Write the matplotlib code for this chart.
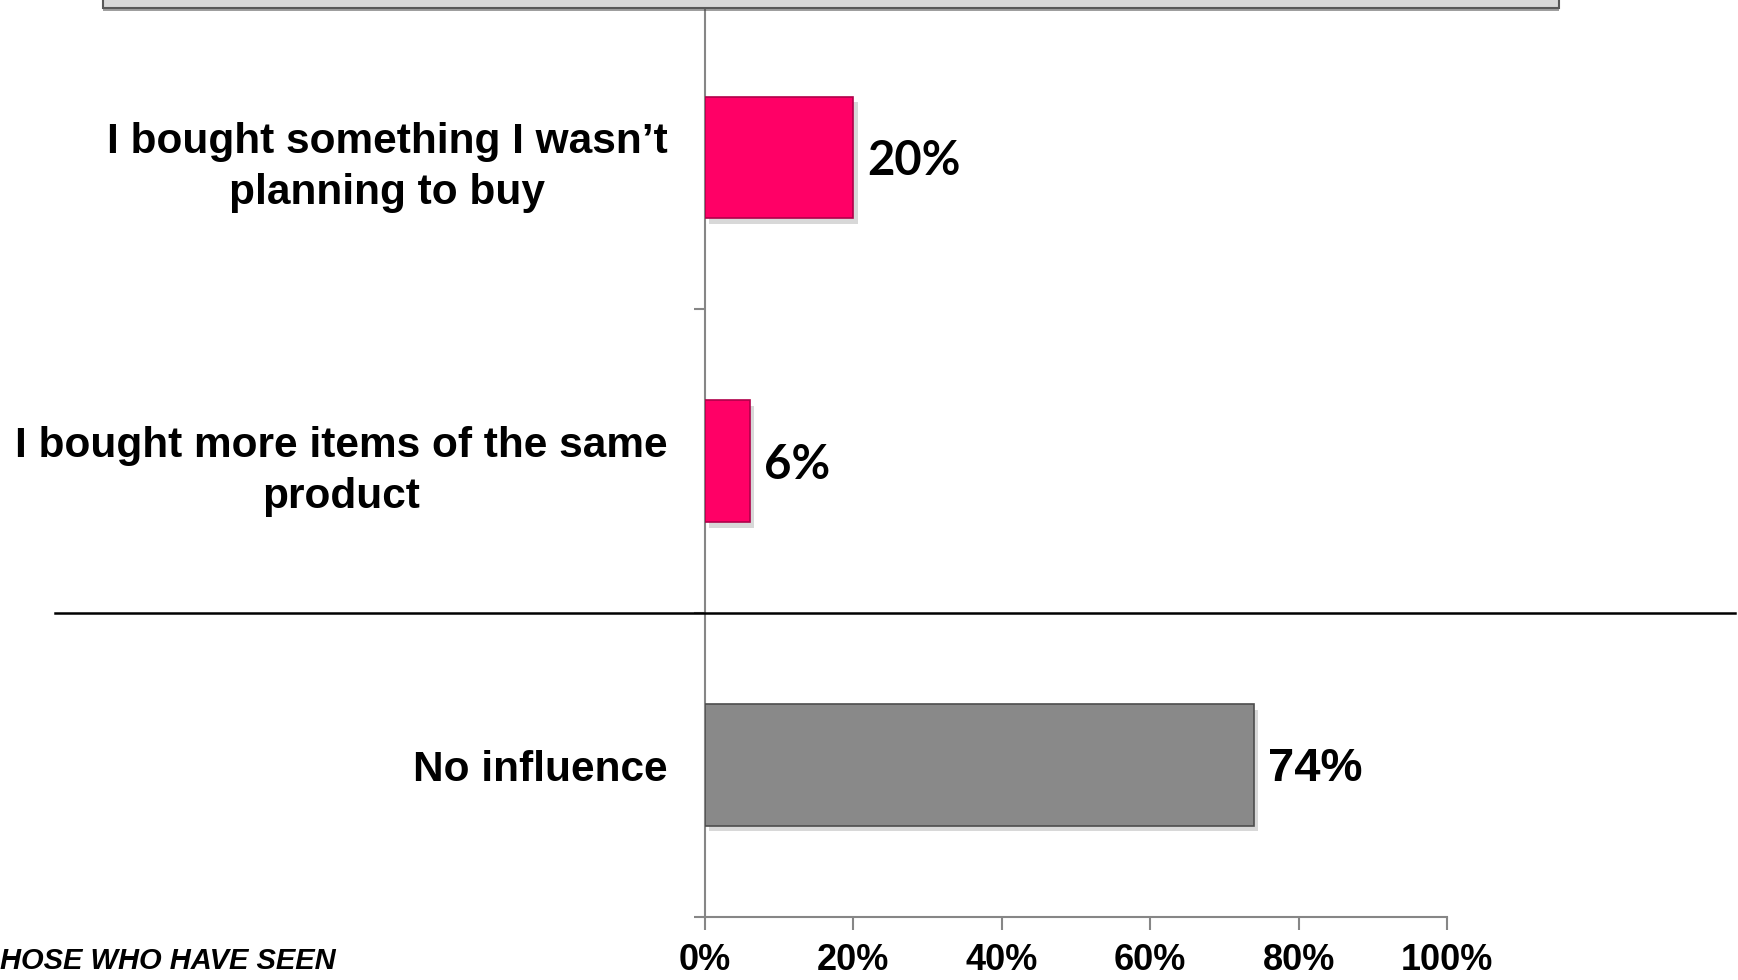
import matplotlib
matplotlib.use("Agg")
import matplotlib.pyplot as plt
import matplotlib.patheffects as pe
from matplotlib import font_manager
from matplotlib.patches import Rectangle
from matplotlib.transforms import blended_transform_factory

# data
categories = [
    "I bought something I wasn\u2019t\nplanning to buy",
    "I bought more items of the same\nproduct",
    "No influence",
]
values = [20, 6, 74]
xticks = [0, 20, 40, 60, 80, 100]
xtick_labels = ["0%", "20%", "40%", "60%", "80%", "100%"]
footer = "HOSE WHO HAVE SEEN"

bar_colors = ["#ff0066", "#ff0066", "#898989"]
bar_edges = ["#b0004a", "#b0004a", "#4d4d4d"]

names = {f.name for f in font_manager.fontManager.ttflist}
narrow = "Liberation Sans Narrow" if "Liberation Sans Narrow" in names else "Liberation Sans"
value_fonts = ["Lato", "Lato", narrow]

W, H = 1738, 980
fig = plt.figure(figsize=(W / 100, H / 100), dpi=100)
ax = fig.add_axes([705 / W, 1 - 917 / H, (1447 - 705) / W, (917 - 5.5) / H])

pos = list(range(len(categories)))
bars = ax.barh(pos, values, height=0.4, color=bar_colors, edgecolor=bar_edges,
               linewidth=1.2, zorder=3)
for b in bars:
    b.set_path_effects([pe.SimplePatchShadow(offset=(3, -4), shadow_rgbFace="#808080",
                                             alpha=0.3), pe.Normal()])

ax.set_xlim(0, 100)
ax.set_ylim(len(categories) - 0.5, -0.5)

for s in ["top", "right"]:
    ax.spines[s].set_visible(False)
for s in ["left", "bottom"]:
    ax.spines[s].set_color("#868686")
    ax.spines[s].set_linewidth(1.5)

ax.set_xticks(xticks, xtick_labels)
ax.tick_params(axis="x", direction="out", length=9, width=1.5, color="#868686", pad=10)
for lbl in ax.get_xticklabels():
    lbl.set_fontfamily(narrow)
    lbl.set_fontweight("bold")
    lbl.set_fontsize(26)

ax.set_yticks(pos, categories)
ax.set_yticks([p - 0.5 for p in pos] + [pos[-1] + 0.5], minor=True)
ax.tick_params(axis="y", which="major", length=0, pad=27)
ax.tick_params(axis="y", which="minor", direction="out", length=8, width=1.5, color="#868686")
for lbl in ax.get_yticklabels():
    lbl.set_fontfamily("Liberation Sans")
    lbl.set_fontweight("bold")
    lbl.set_fontsize(30.5)
    lbl.set_multialignment("center")
    lbl.set_linespacing(1.36)

for p, v, f in zip(pos, values, value_fonts):
    ax.annotate(f"{v}%", xy=(v, p), xytext=(14, -4), textcoords="offset pixels",
                ha="left", va="center", fontsize=34, fontweight="bold", fontfamily=f)

# separator line between the answers and "No influence"
trans = blended_transform_factory(fig.transFigure, ax.transData)
ax.plot([55 / W, 1735 / W], [1.5, 1.5], color="black", lw=1.8, transform=trans,
        clip_on=False, zorder=5)

# box at the top, cut off by the figure edge
box = Rectangle((103 / W, 1 - 8 / H), (1559 - 103) / W, 0.05, transform=fig.transFigure,
                facecolor="#d9d9d9", edgecolor="#595959", linewidth=1.5, zorder=2)
box.set_path_effects([pe.SimplePatchShadow(offset=(0, -2), alpha=0.5), pe.Normal()])
fig.patches.append(box)

fig.text(0, 1 - 961 / H, footer, ha="left", va="center", fontsize=21,
         fontweight="bold", fontstyle="italic", fontfamily="Liberation Sans")

fig.savefig("out.png", dpi=100)
